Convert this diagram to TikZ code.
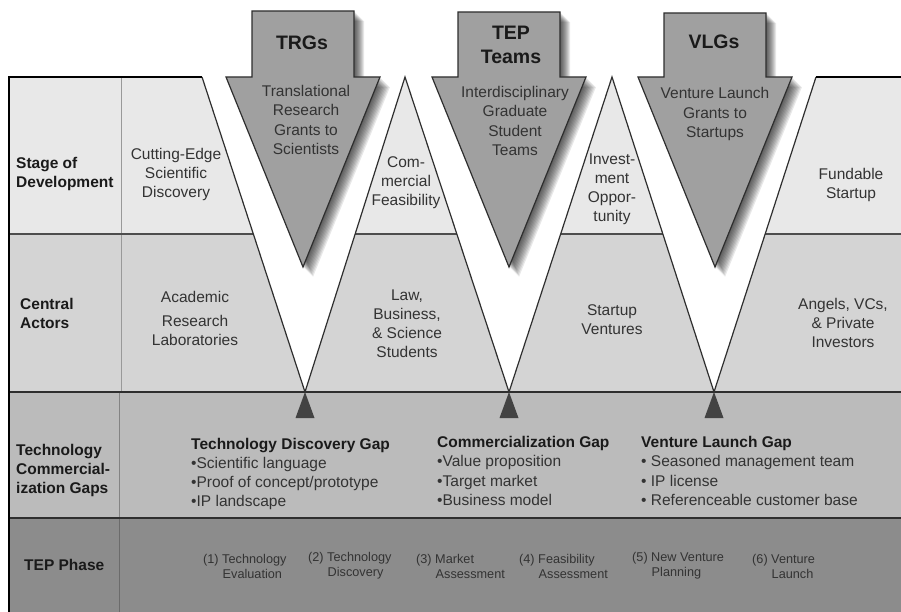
\documentclass[tikz,border=0pt]{standalone}
\usepackage{fontspec}
\setmainfont{Liberation Sans}
\definecolor{rowA}{HTML}{E8E8E8}
\definecolor{rowB}{HTML}{D4D4D4}
\definecolor{rowC}{HTML}{BBBBBB}
\definecolor{rowD}{HTML}{8C8C8C}
\definecolor{arrowfill}{HTML}{A0A0A0}
\definecolor{txtgray}{HTML}{333333}
\definecolor{lblblack}{HTML}{1A1A1A}
\definecolor{edgegray}{HTML}{2E2E2E}
\newcommand{\arrowshape}[2]{({#1-51},#2) -- ({#1+51},#2) -- ({#1+51},77) -- ({#1+77},77) -- (#1,267) -- ({#1-77},77) -- ({#1-51},77) -- cycle}
\tikzset{
  body/.style={font=\fontsize{15.5}{19}\selectfont, text=txtgray, align=center, inner sep=0pt},
  rowlabel/.style={font=\fontsize{15.5}{19}\selectfont\bfseries, text=lblblack, align=left, anchor=west, inner sep=0pt},
  gaptext/.style={font=\fontsize{15.5}{19.3}\selectfont, text=txtgray, align=left, anchor=west, inner sep=0pt},
  phasetext/.style={font=\fontsize{12.7}{15}\selectfont, text=txtgray, align=left, anchor=west, inner sep=0pt},
  arrowtitle/.style={font=\fontsize{19.5}{24}\selectfont\bfseries, text=lblblack, align=center, inner sep=0pt},
  arrowbody/.style={font=\fontsize{15.5}{19.3}\selectfont, text=txtgray, align=center, inner sep=0pt},
  bigarrow/.style={fill=arrowfill, draw=edgegray, line width=1.2pt, line join=miter},
  vedge/.style={draw=edgegray, line width=1.2pt},
  rowline/.style={draw=edgegray, line width=1.4pt},
  gapmark/.style={fill=edgegray!90},
}
\begin{document}
\begin{tikzpicture}[x=1pt,y=-1pt]
\useasboundingbox (0,0) rectangle (901,612);
% row fills
\fill[rowA] (9,77) rectangle (901,234);
\fill[rowB] (9,234) rectangle (901,392);
\fill[rowC] (9,392) rectangle (901,518);
\fill[rowD] (9,518) rectangle (901,612);
% column dividers
\draw[gray!80, line width=0.8pt] (121,77) -- (121,392);
\draw[gray!60!black, line width=0.6pt, opacity=0.5] (119,392) -- (119,612);
% row lines
\draw[draw=edgegray!85, line width=1.3pt] (9,234) -- (901,234);
\draw[rowline] (9,392) -- (901,392);
\draw[rowline] (9,518) -- (901,518);
% white V notches
\fill[white] (202,77) -- (305,392) -- (405,77) -- cycle;
\fill[white] (405,77) -- (509,392) -- (612,77) -- cycle;
\fill[white] (612,77) -- (714,392) -- (816,77) -- cycle;
\draw[vedge] (202,77) -- (305,392) -- (405,77) -- (509,392) -- (612,77) -- (714,392) -- (816,77);
% top borders
\draw[draw=black, line width=1.3pt] (9,77) -- (202,77);
\draw[draw=black, line width=1.3pt] (816,77) -- (901,77);
% left border
\draw[black, line width=2.5pt] (9,76.4) -- (9,612);
% gap markers
\fill[gapmark] (305,392) -- (295.5,418) -- (314.5,418) -- cycle;
\fill[gapmark] (509,392) -- (499.5,418) -- (518.5,418) -- cycle;
\fill[gapmark] (714,392) -- (704.5,418) -- (723.5,418) -- cycle;
% arrows with soft shadows
\foreach \c/\t in {303/11, 509/12, 715/13} {
  \foreach \s in {1,...,10} {
    \fill[black, opacity=0.09, shift={(\s,\s)}] \arrowshape{\c}{\t};
  }
  \filldraw[bigarrow] \arrowshape{\c}{\t};
}
% arrow texts
\node[arrowtitle] (trg) at (302,43) {TRGs};
\node[arrowtitle] (tep) at (511,45) {TEP\\Teams};
\node[arrowtitle] (vlg) at (714,42) {VLGs};
\node[arrowbody] (trgtxt) at (306,120) {Translational\\Research\\Grants to\\Scientists};
\node[arrowbody] (teptxt) at (515,121) {Interdisciplinary\\Graduate\\Student\\Teams};
\node[arrowbody] (vlgtxt) at (715,114) {Venture Launch\\Grants to\\Startups};
% row labels
\node[rowlabel] (stage) at (16,174) {Stage of\\Development};
\node[rowlabel] (actors) at (20,313) {Central\\Actors};
\node[rowlabel] (gaps) at (16,470) {Technology\\Commercial-\\ization Gaps};
\node[rowlabel] (phase) at (24,565) {TEP Phase};
% stage of development
\node[body] (s1) at (176,174) {Cutting-Edge\\Scientific\\Discovery};
\node[body] (s2) at (406,183) {Com-\\mercial\\Feasibility};
\node[body] (s3) at (612,189) {Invest-\\ment\\Oppor-\\tunity};
\node[body] (s4) at (851,185) {Fundable\\Startup};
% central actors
\node[body] (a1) at (195,318) {Academic\\[5pt]Research\\Laboratories};
\node[body] (a2) at (407,324) {Law,\\Business,\\\& Science\\Students};
\node[body] (a3) at (612,320) {Startup\\Ventures};
\node[body] (a4) at (843,323) {Angels, VCs,\\\& Private\\Investors};
% gaps
\node[gaptext] (g1) at (191,474) {\textbf{\color{lblblack}Technology Discovery Gap}\\•Scientific language\\•Proof of concept/prototype\\•IP landscape};
\node[gaptext] (g2) at (437,471) {\textbf{\color{lblblack}Commercialization Gap}\\•Value proposition\\•Target market\\•Business model};
\node[gaptext] (g3) at (641,471) {\textbf{\color{lblblack}Venture Launch Gap}\\• Seasoned management team\\• IP license\\• Referenceable customer base};
% phases
\node[phasetext] (p1) at (203,566) {(1) Technology\\\hspace*{19.5pt}Evaluation};
\node[phasetext] (p2) at (308,566) {(2) Technology\\\hspace*{19.5pt}Discovery};
\node[phasetext] (p3) at (416,566) {(3) Market\\\hspace*{19.5pt}Assessment};
\node[phasetext] (p4) at (519,566) {(4) Feasibility\\\hspace*{19.5pt}Assessment};
\node[phasetext] (p5) at (632,566) {(5) New Venture\\\hspace*{19.5pt}Planning};
\node[phasetext] (p6) at (752,566) {(6) Venture\\\hspace*{19.5pt}Launch};
\end{tikzpicture}
\end{document}
